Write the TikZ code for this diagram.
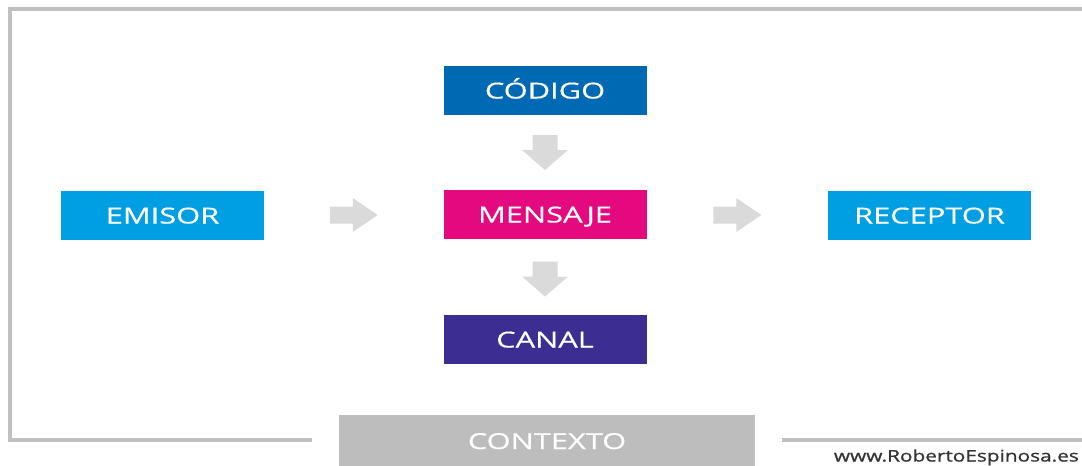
\documentclass[tikz,border=0pt]{standalone}
\usepackage{fontspec}
\usetikzlibrary{calc}
\newfontfamily\boxfont[FakeStretch=1.4,FakeBold=0.5]{Open Sans}
\newfontfamily\webfont[FakeStretch=1.3,FakeBold=1]{Open Sans}
\definecolor{bordergray}{HTML}{C0C0C0}
\definecolor{arrowgray}{HTML}{DADADA}
\definecolor{ctxgray}{HTML}{BDBDBD}
\definecolor{lightblue}{HTML}{009FE3}
\definecolor{darkblue}{HTML}{0069B4}
\definecolor{magenta}{HTML}{E5097F}
\definecolor{violet}{HTML}{3B2D91}
\definecolor{webgray}{HTML}{333333}
\tikzset{
  box/.style={fill=#1, text=white, minimum width=203pt, minimum height=49pt,
    inner sep=0pt, font=\boxfont\fontsize{22}{22}\selectfont, text height=16pt, text depth=0pt},
  rarrow/.pic={\fill[arrowgray] (-24,-8.5) -- (-1,-8.5) -- (-1,-17) -- (24,0) -- (-1,17) -- (-1,8.5) -- (-24,8.5) -- cycle;},
  darrow/.pic={\fill[arrowgray] (-12.5,-17.5) -- (12.5,-17.5) -- (12.5,-2.5) -- (23,-2.5) -- (0,17.5) -- (-23,-2.5) -- (-12.5,-2.5) -- cycle;},
}
\begin{document}
\begin{tikzpicture}[x=1pt,y=-1pt]
\useasboundingbox (0,0) rectangle (1082,466);
\fill[white] (0,0) rectangle (1082,466);
\node[box=darkblue] (codigo) at (545,90.5) {CÓDIGO};
\node[box=magenta] (mensaje) at (545,214.5) {MENSAJE};
\node[box=violet] (canal) at (545,339.5) {CANAL};
\node[box=lightblue] (emisor) at (162.5,215.5) {EMISOR};
\node[box=lightblue] (receptor) at (929.5,215.5) {RECEPTOR};
\node[box=ctxgray, minimum width=416pt, minimum height=52pt] (contexto) at (547,441) {CONTEXTO};
\pic at ($(emisor.east)!0.5!(mensaje.west)$) {rarrow};
\pic at ($(mensaje.east)!0.5!(receptor.west)$) {rarrow};
\pic at ($(codigo.south)!0.5!(mensaje.north)$) {darrow};
\pic at ($(mensaje.south)!0.5!(canal.north)+(0,2)$) {darrow};
\coordinate (bl) at (10,440);
\coordinate (tl) at (10,8.8);
\coordinate (tr) at (1084,8.8);
\coordinate (br) at (1084,440);
\draw[bordergray, line width=4pt] ($(contexto.west |- bl)+(-27,0)$) -- (bl) -- (tl) -- (tr) -- (br) -- ($(contexto.east |- br)+(27,0)$);
\node[anchor=base east, inner sep=0pt, text=webgray, font=\webfont\fontsize{16}{16}\selectfont] (web) at (1079,461.5) {www.RobertoEspinosa.es};
\end{tikzpicture}
\end{document}
